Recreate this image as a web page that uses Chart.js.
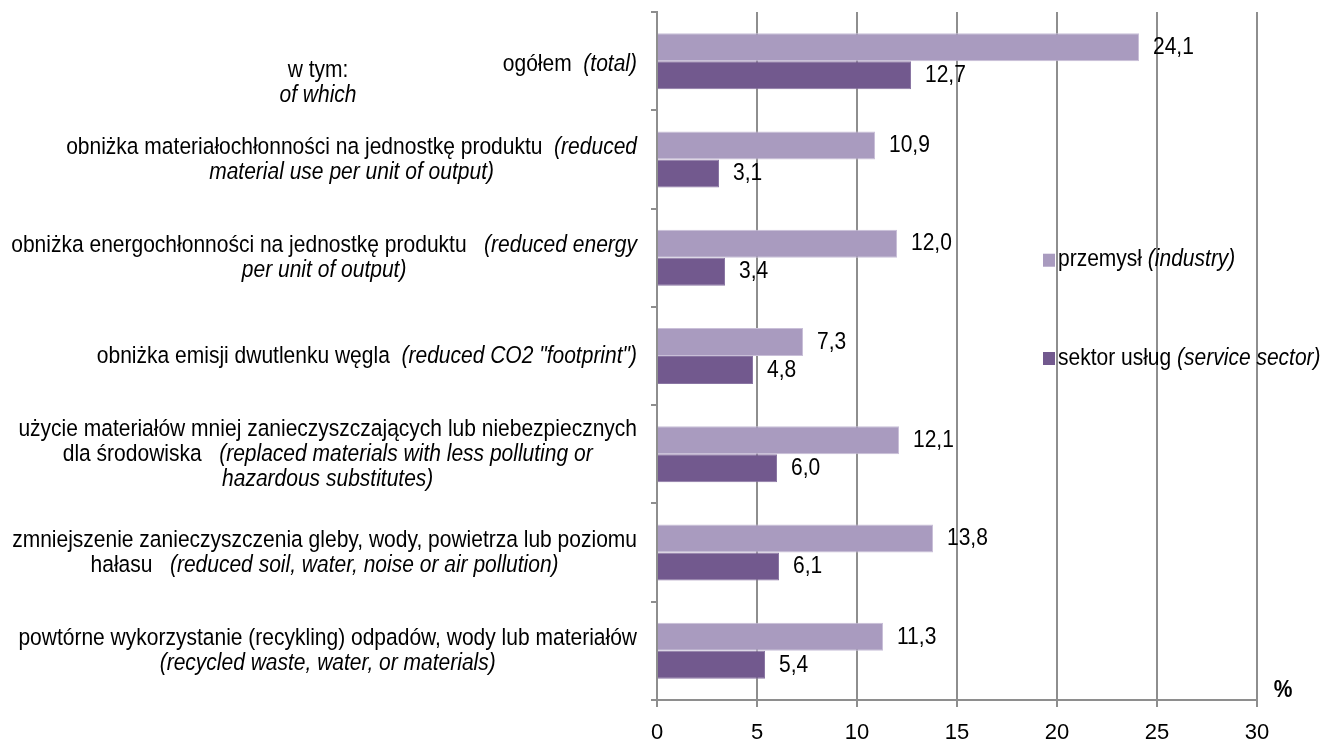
<!DOCTYPE html>
<html>
<head>
<meta charset="utf-8">
<script src="https://cdn.jsdelivr.net/npm/chart.js@4"></script>
<style>
  html, body { margin: 0; padding: 0; background: #fff; }
</style>
</head>
<body>
<canvas id="myChart" width="1324" height="744"></canvas>
<script>
// categories (top to bottom), full label text
const categories = [
    'ogółem (total)',
    'obniżka materiałochłonności na jednostkę produktu (reduced material use per unit of output)',
    'obniżka energochłonności na jednostkę produktu (reduced energy per unit of output)',
    'obniżka emisji dwutlenku węgla (reduced CO2 "footprint")',
    'użycie materiałów mniej zanieczyszczających lub niebezpiecznych dla środowiska (replaced materials with less polluting or hazardous substitutes)',
    'zmniejszenie zanieczyszczenia gleby, wody, powietrza lub poziomu hałasu (reduced soil, water, noise or air pollution)',
    'powtórne wykorzystanie (recykling) odpadów, wody lub materiałów (recycled waste, water, or materials)'
];
// how each label is broken into lines: [plain part, italic part]
const labelLines = [
    [['ogółem  ', '(total)']],
    [['obniżka materiałochłonności na jednostkę produktu  ', '(reduced'], ['', 'material use per unit of output)']],
    [['obniżka energochłonności na jednostkę produktu   ', '(reduced energy'], ['', 'per unit of output)']],
    [['obniżka emisji dwutlenku węgla  ', '(reduced CO2 "footprint")']],
    [['użycie materiałów mniej zanieczyszczających lub niebezpiecznych', ''], ['dla środowiska   ', '(replaced materials with less polluting or'], ['', 'hazardous substitutes)']],
    [['zmniejszenie zanieczyszczenia gleby, wody, powietrza lub poziomu', ''], ['hałasu   ', '(reduced soil, water, noise or air pollution)']],
    [['powtórne wykorzystanie (recykling) odpadów, wody lub materiałów', ''], ['', '(recycled waste, water, or materials)']]
];
const subNote = ['w tym:', 'of which'];

const industry = [24.1, 10.9, 12.0, 7.3, 12.1, 13.8, 11.3];
const services = [12.7, 3.1, 3.4, 4.8, 6.0, 6.1, 5.4];

const seriesNames = [['przemysł ', '(industry)'], ['sektor usług ', '(service sector)']];
const xTicks = [0, 5, 10, 15, 20, 25, 30];
const unitLabel = '%';

const FONT = '"Liberation Sans", Arial, sans-serif';
const lightColor = '#a99bbf';
const darkColor = '#72598e';
const gridColor = '#8e8e8e';
const STRETCH = 1.15; // source text is a bit taller than wide

function fmt(v) {
    return v.toFixed(1).replace('.', ',');
}

// text drawn slightly stretched vertically, around its middle
function drawText(ctx, text, x, y, font) {
    ctx.save();
    ctx.font = font;
    ctx.translate(x, y);
    ctx.scale(1, STRETCH);
    ctx.fillText(text, 0, 0);
    ctx.restore();
}

// draws category labels, notes, value labels and legend
const textPlugin = {
    id: 'texts',
    afterDraw(chart) {
        const ctx = chart.ctx;
        const yScale = chart.scales.y;
        const area = chart.chartArea;
        const regular = '21px ' + FONT;
        const italic = 'italic 21px ' + FONT;
        const lineH = 25;
        const rightEdge = area.left - 20;

        ctx.save();
        ctx.fillStyle = '#000';
        ctx.textBaseline = 'middle';
        ctx.textAlign = 'left';

        labelLines.forEach((lines, i) => {
            const cy = yScale.getPixelForValue(i) + (i === 0 ? 3 : 0);
            const widths = lines.map(([a, b]) => {
                ctx.font = regular;
                const wa = ctx.measureText(a).width;
                ctx.font = italic;
                return wa + ctx.measureText(b).width;
            });
            const maxW = Math.max(...widths);
            const center = rightEdge - maxW / 2;
            const y0 = cy - (lines.length - 1) * lineH / 2;
            lines.forEach(([a, b], k) => {
                let x = center - widths[k] / 2;
                const y = y0 + k * lineH;
                drawText(ctx, a, x, y, regular);
                ctx.font = regular;
                x += ctx.measureText(a).width;
                drawText(ctx, b, x, y, italic);
            });
        });

        // "w tym: / of which"
        ctx.textAlign = 'center';
        const c0 = yScale.getPixelForValue(0);
        drawText(ctx, subNote[0], 318, c0 + 9, regular);
        drawText(ctx, subNote[1], 318, c0 + 34, italic);

        // value labels at bar ends
        ctx.textAlign = 'left';
        chart.data.datasets.forEach((ds, d) => {
            const meta = chart.getDatasetMeta(d);
            meta.data.forEach((bar, i) => {
                drawText(ctx, fmt(ds.data[i]), bar.x + 14, bar.y, regular);
            });
        });

        // legend
        const legendY = [yScale.getPixelForValue(2) + 2, yScale.getPixelForValue(3) + 2];
        seriesNames.forEach(([a, b], d) => {
            const y = legendY[d];
            ctx.fillStyle = chart.data.datasets[d].backgroundColor;
            ctx.fillRect(1043, y - 6, 12, 13);
            ctx.fillStyle = '#000';
            drawText(ctx, a, 1058, y, regular);
            ctx.font = regular;
            const w = ctx.measureText(a).width;
            drawText(ctx, b, 1058 + w, y, italic);
        });

        // unit
        ctx.textAlign = 'center';
        drawText(ctx, unitLabel, 1283, area.bottom - 10, 'bold 21px ' + FONT);
        ctx.restore();
    }
};

const ctx = document.getElementById('myChart').getContext('2d');
const myChart = new Chart(ctx, {
    type: 'bar',
    data: {
        labels: categories,
        datasets: [{
            label: seriesNames[0].join(''),
            data: industry,
            backgroundColor: lightColor,
            borderColor: '#c9bfd8',
            borderWidth: 1,
            categoryPercentage: 0.57,
            barPercentage: 1.0
        }, {
            label: seriesNames[1].join(''),
            data: services,
            backgroundColor: darkColor,
            borderColor: '#8a76a3',
            borderWidth: 1,
            categoryPercentage: 0.57,
            barPercentage: 1.0
        }]
    },
    options: {
        indexAxis: 'y',
        responsive: false,
        animation: false,
        layout: { padding: { top: 12, right: 67, left: 0, bottom: 0 } },
        plugins: {
            legend: { display: false },
            tooltip: { enabled: false }
        },
        scales: {
            x: {
                min: xTicks[0],
                max: xTicks[xTicks.length - 1],
                afterBuildTicks: function(scale) {
                    scale.ticks = xTicks.map(v => ({ value: v }));
                },
                grid: { color: gridColor, lineWidth: 2, tickLength: 7 },
                border: { color: gridColor, width: 2 },
                ticks: {
                    color: '#000',
                    font: { family: FONT, size: 22 },
                    padding: 13,
                    maxRotation: 0
                },
                afterFit: function(scale) { scale.height = 44; }
            },
            y: {
                grid: { offset: true, drawOnChartArea: false, color: gridColor, lineWidth: 2, tickLength: 6 },
                border: { color: gridColor, width: 2 },
                ticks: { display: false },
                afterFit: function(scale) { scale.width = 657; }
            }
        }
    },
    plugins: [textPlugin]
});
</script>
</body>
</html>
